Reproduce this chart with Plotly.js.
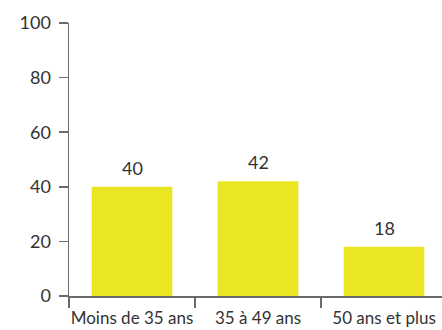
<!DOCTYPE html>
<html><head><meta charset="utf-8">
<script src="https://cdn.plot.ly/plotly-3.0.1.min.js"></script>
<style>html,body{margin:0;padding:0;background:#fff}#c{width:442px;height:330px}</style>
</head><body><div id="c"></div>
<script>
const categories = ["Moins de 35 ans", "35 à 49 ans", "50 ans et plus"];
const values = [40, 42, 18];
const yTicks = [0, 20, 40, 60, 80, 100];

const textColor = "#333333";
const axisColor = "#6b6b6b";
const fontFam = "Lato, 'Open Sans', sans-serif";

const trace = {
  type: "bar",
  x: categories,
  y: values,
  width: 0.64,
  marker: {color: "#EBE623"},
  hoverinfo: "none"
};

const annotations = categories.map((c, i) => ({
  x: c, y: values[i], xref: "x", yref: "y",
  text: String(values[i]), showarrow: false,
  yanchor: "bottom", yshift: 6,
  font: {family: fontFam, size: 18, color: textColor}
}));

const layout = {
  width: 442, height: 330,
  margin: {l: 69, r: 0, t: 23, b: 34},
  paper_bgcolor: "#fff", plot_bgcolor: "#fff",
  showlegend: false,
  bargap: 0.36,
  xaxis: {
    type: "category",
    range: [-0.5, 2.46],
    showgrid: false, zeroline: false,
    showline: true, linecolor: axisColor, linewidth: 1.5,
    ticks: "outside", tickson: "boundaries", ticklen: 10, tickwidth: 1.5, tickcolor: axisColor,
    tickangle: 0,
    ticklabelstandoff: 6,
    tickfont: {family: fontFam, size: 17, color: textColor},
    fixedrange: true
  },
  yaxis: {
    range: [0, 100],
    tickvals: yTicks,
    showgrid: false, zeroline: false,
    showline: true, linecolor: axisColor, linewidth: 1.5,
    ticks: "outside", ticklen: 9, tickwidth: 1.5, tickcolor: axisColor,
    ticklabelstandoff: 4,
    tickfont: {family: fontFam, size: 18, color: textColor},
    fixedrange: true
  },
  annotations: annotations
};

Plotly.newPlot("c", [trace], layout, {displayModeBar: false, staticPlot: true});
</script>
</body></html>
